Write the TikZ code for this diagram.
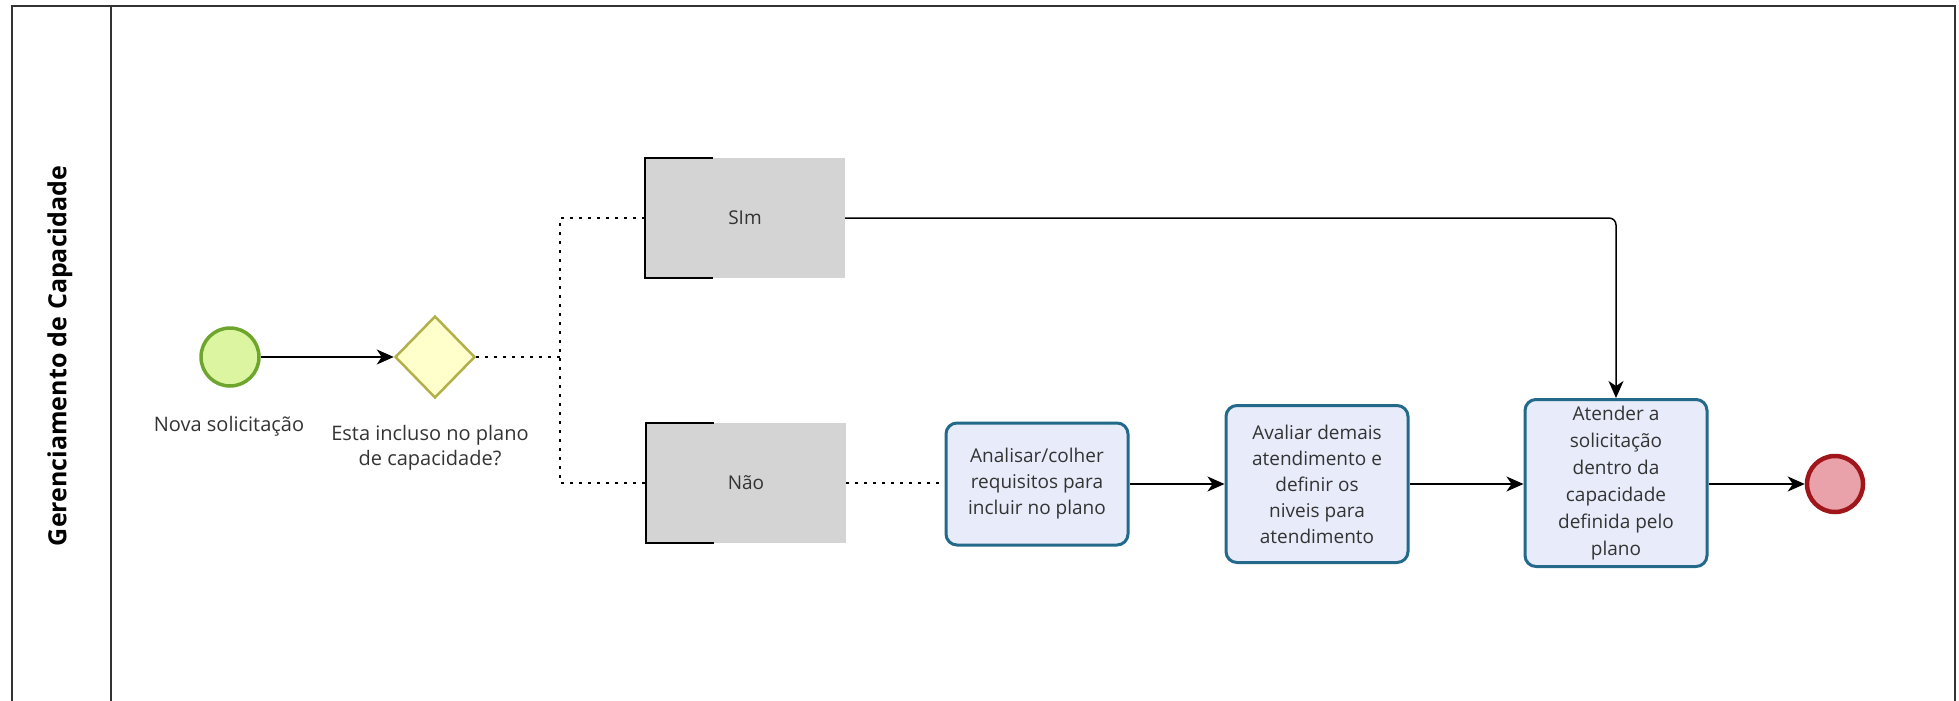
\documentclass[tikz,border=0pt]{standalone}
\usepackage{fontspec}
\setmainfont{Open Sans}
\usetikzlibrary{shapes.geometric,arrows.meta}
\definecolor{startfill}{HTML}{DCF5A0}
\definecolor{startdraw}{HTML}{6EA52C}
\definecolor{gwfill}{HTML}{FFFFCC}
\definecolor{gwdraw}{HTML}{B3B04A}
\definecolor{grayfill}{HTML}{D4D4D4}
\definecolor{taskfill}{HTML}{E8ECFA}
\definecolor{taskdraw}{HTML}{22698A}
\definecolor{endfill}{HTML}{E9A2AA}
\definecolor{enddraw}{HTML}{A0161B}
\definecolor{txt}{HTML}{333333}
\tikzset{
  lbl/.style={font=\fontsize{20}{25}\selectfont, text=txt, align=center, inner sep=0pt},
  task/.style={draw=taskdraw, fill=taskfill, line width=3pt, rounded corners=11pt,
    minimum width=182pt, align=center, inner sep=0pt, text=txt,
    font=\fontsize{19}{26}\selectfont},
  databox/.style={fill=grayfill, minimum width=200pt, minimum height=120pt, inner sep=0pt,
    text=txt, font=\fontsize{19}{25}\selectfont},
  flow/.style={line width=1.5pt, -{Stealth[length=17pt,width=15pt,inset=5pt]}},
  assoc/.style={line width=1.5pt, dash pattern=on 3pt off 6pt},
  bracket/.style={line width=2pt}
}
\begin{document}
\begin{tikzpicture}[x=1pt,y=-1pt]
\useasboundingbox (0,0) rectangle (1959,701);
% pool frame
\draw[line width=2pt, color=txt] (12,701) -- (12,6) -- (1955,6) -- (1955,701);
\draw[line width=2pt, color=txt] (111,6) -- (111,701);
\node[rotate=90, font=\fontsize{25}{30}\selectfont\bfseries, text=black] (lane) at (60,356) {Gerenciamento de Capacidade};
% nodes
\node[circle, draw=startdraw, fill=startfill, line width=3.5pt, minimum size=58pt, inner sep=0pt] (start) at (230,357) {};
\node[lbl] (startlbl) at (229,426) {Nova solicitação};
\node[diamond, draw=gwdraw, fill=gwfill, line width=2.5pt, minimum width=80pt, minimum height=82pt, inner sep=0pt] (gw) at (435,357) {};
\node[lbl] (gwlbl) at (430,448) {Esta incluso no plano\\de capacidade?};
\node[databox] (sim) at (745,218) {SIm};
\node[databox] (nao) at (746,483) {Não};
\draw[bracket] ([xshift=68pt]sim.north west) -- (sim.north west) -- (sim.south west) -- ([xshift=68pt]sim.south west);
\draw[bracket] ([xshift=68pt]nao.north west) -- (nao.north west) -- (nao.south west) -- ([xshift=68pt]nao.south west);
\node[task, minimum height=122pt] (t1) at (1037,484) {Analisar/colher\\requisitos para\\incluir no plano};
\node[task, minimum height=157pt] (t2) at (1317,484) {Avaliar demais\\atendimento e\\definir os\\niveis para\\atendimento};
\node[task, minimum height=167pt, font=\fontsize{19}{27}\selectfont] (t3) at (1616,483) {Atender a\\solicitação\\dentro da\\capacidade\\definida pelo\\plano};
\node[circle, draw=enddraw, fill=endfill, line width=4.5pt, minimum size=56pt, inner sep=0pt] (end) at (1835,484) {};
\coordinate (j) at (560,357);
% connectors
\draw[flow] (start) -- (gw);
\draw[assoc] (gw.east) -- (j);
\draw[assoc] (sim.west) -| (j) |- (nao.west);
\draw[assoc] (nao.east) -- (t1.west |- nao.east);
\draw[flow] (t1.east) -- (t2.west |- t1.east);
\draw[flow] (t2.east) -- (t3.west |- t2.east);
\draw[flow] (t3.east |- end) -- (end);
\draw[flow, rounded corners=7pt] (sim.east) -| (t3.north);
\end{tikzpicture}
\end{document}
